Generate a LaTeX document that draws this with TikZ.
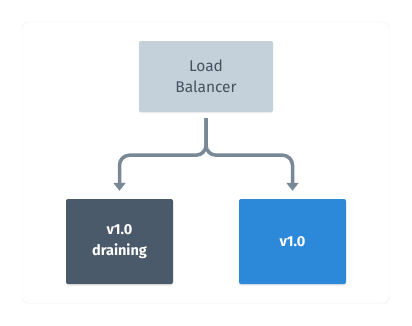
\documentclass[tikz,border=0pt]{standalone}
\usepackage{fontspec}
\setmainfont{Fira Sans}
\usetikzlibrary{arrows.meta,shadows}
\definecolor{lbfill}{HTML}{C4D0DA}
\definecolor{lbtext}{HTML}{46535F}
\definecolor{oldgray}{HTML}{4A5A6A}
\definecolor{newblue}{HTML}{2C89D9}
\definecolor{linkgray}{HTML}{788896}
\definecolor{panelline}{HTML}{F0F0F0}

\begin{document}
\begin{tikzpicture}[x=1pt,y=-1pt]
  \tikzstyle{panel}=[draw=panelline,fill=white,rounded corners=6pt,
    drop shadow={opacity=0.04,shadow xshift=0pt,shadow yshift=-1pt}]
  \tikzstyle{balancer}=[fill=lbfill,rounded corners=2pt,minimum width=134pt,minimum height=71pt,
    align=center,text=lbtext,font=\fontsize{15.5}{21}\selectfont,
    drop shadow={opacity=0.12,shadow xshift=0pt,shadow yshift=-1pt}]
  \tikzstyle{version}=[rounded corners=2pt,minimum width=107pt,minimum height=85pt,
    align=center,text=white,font=\fontsize{14.5}{21}\selectfont\bfseries,
    drop shadow={opacity=0.18,shadow xshift=0pt,shadow yshift=-1.5pt}]
  \tikzstyle{route}=[-{Triangle[width=12pt,length=8pt]},linkgray,line width=3.5pt,rounded corners=10pt]

  \useasboundingbox (0,0) rectangle (412,325);
  \path[panel] (22,22) rectangle (389,303);

  % -- balancer on top --
  \node[balancer] (lb) at (206,76.5) {Load\\ Balancer};

  % -- old and new versions --
  \node[version,fill=oldgray] (old) at (119.5,241.5) {v1.0\\ draining};
  \node[version,fill=newblue] (new) at (292.5,241.5) {v1.0};

  % -- traffic split --
  \coordinate (split) at ([yshift=-43pt]lb.south);
  \draw[route] ([yshift=-6pt]lb.south) -- (split) -- (split -| old.north) -- ([yshift=8pt]old.north);
  \draw[route] ([yshift=-6pt]lb.south) -- (split) -- (split -| new.north) -- ([yshift=8pt]new.north);
\end{tikzpicture}
\end{document}
